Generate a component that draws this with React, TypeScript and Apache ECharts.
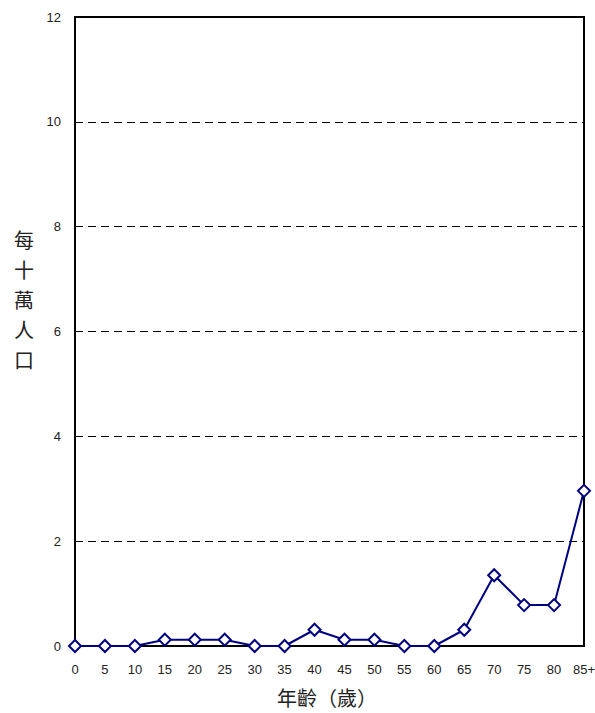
import React, { useEffect, useRef } from "react";
import * as echarts from "echarts";

const categories = ["0", "5", "10", "15", "20", "25", "30", "35", "40", "45", "50", "55", "60", "65", "70", "75", "80", "85+"];
const values = [0, 0, 0, 0.12, 0.12, 0.12, 0, 0, 0.31, 0.12, 0.12, 0, 0, 0.31, 1.35, 0.78, 0.78, 2.96];
const xTitle = "年齡（歲）";
const yTitleChars = ["每", "十", "萬", "人", "口"];

export default function App() {
  const ref = useRef<HTMLDivElement>(null);
  useEffect(() => {
    if (!ref.current) return;
    const chart = echarts.init(ref.current, undefined, { renderer: "svg" });
    const font = "'Liberation Sans', Arial, sans-serif";
    const cjk = "'Noto Sans CJK TC', 'Noto Sans CJK SC', sans-serif";
    chart.setOption({
      animation: false,
      backgroundColor: "#ffffff",
      grid: {
        left: 75, top: 17, width: 509, height: 629, show: true,
        borderColor: "#000", borderWidth: 2, backgroundColor: "transparent",
        containLabel: false, outerBoundsMode: "none",
      },
      xAxis: {
        type: "category",
        data: categories,
        boundaryGap: false,
        axisLine: { show: true, lineStyle: { color: "#000", width: 2 } },
        axisTick: { show: false },
        axisLabel: { color: "#222", fontSize: 13, fontFamily: font, margin: 17 },
        splitLine: { show: false },
      },
      yAxis: {
        type: "value",
        min: 0,
        max: 12,
        interval: 2,
        axisLine: { show: true, lineStyle: { color: "#000", width: 2 } },
        axisTick: { show: false },
        axisLabel: { color: "#222", fontSize: 13, fontFamily: font, margin: 14 },
        splitLine: { show: true, lineStyle: { color: "#000", width: 1, type: [8, 5] } },
      },
      graphic: [
        {
          type: "text",
          x: 327,
          y: 697,
          style: { text: xTitle, fontSize: 20, fontFamily: cjk, fill: "#222", align: "center", verticalAlign: "middle" },
        },
        ...yTitleChars.map((c, i) => ({
          type: "text",
          x: 24,
          y: 239 + i * 30,
          style: { text: c, fontSize: 20, fontFamily: cjk, fill: "#222", align: "center", verticalAlign: "middle" },
        })),
      ],
      series: [
        {
          type: "line",
          data: values,
          symbol: "diamond",
          symbolSize: 12,
          lineStyle: { color: "#000080", width: 2 },
          itemStyle: { color: "#ffffff", borderColor: "#000080", borderWidth: 2 },
          z: 5,
        },
      ],
    });
    return () => chart.dispose();
  }, []);
  return <div ref={ref} style={{ position: "absolute", left: 0, top: 0, width: 595, height: 713 }} />;
}
